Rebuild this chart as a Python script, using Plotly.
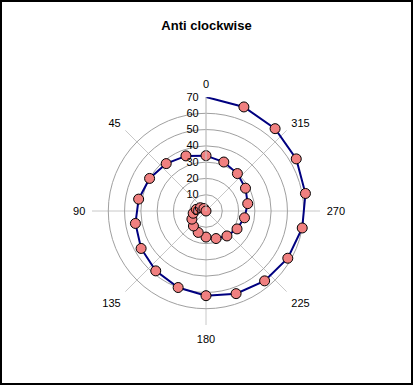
import plotly.graph_objects as go

title_text = "Anti clockwise"
radii = [70, 68, 66, 64, 62, 60, 58, 56, 54, 52, 50, 48, 46, 44, 42, 40, 38, 36,
         34, 32, 30, 28, 26, 24, 22, 20, 18, 16, 14, 12, 10, 8, 6, 4, 2, 0]
angles = [0, 340, 320, 300, 280, 260, 240, 220, 200, 180, 160, 140, 120, 100, 80, 60, 40, 20,
          0, 340, 320, 300, 280, 260, 240, 220, 200, 180, 160, 140, 120, 100, 80, 60, 40, 20]
angle_ticks = [0, 45, 90, 135, 180, 225, 270, 315]
angle_labels = ["0", "45", "90", "135", "180", "225", "270", "315"]
radial_ticks = [0, 10, 20, 30, 40, 50, 60, 70]

W, H = 413, 385
cx, cy, R = 206, 211, 114

fig = go.Figure()
fig.add_trace(go.Scatterpolar(
    r=radii, theta=angles, mode="lines",
    line=dict(color="#000080", width=2), hoverinfo="skip", showlegend=False))
fig.add_trace(go.Scatterpolar(
    r=radii[1:], theta=angles[1:], mode="markers",
    marker=dict(color="#F08080", size=10, line=dict(color="black", width=1)),
    showlegend=False))

fig.update_layout(
    width=W, height=H,
    margin=dict(l=0, r=0, t=0, b=0),
    paper_bgcolor="white",
    font=dict(family="Liberation Sans, Arial, sans-serif", size=11, color="black"),
    title=dict(text="<b>" + title_text + "</b>", x=0.5, xanchor="center",
               y=1 - 25 / H, yanchor="middle", yref="container",
               font=dict(size=13, color="black")),
    polar=dict(
        domain=dict(x=[(cx - R) / W, (cx + R) / W], y=[1 - (cy + R) / H, 1 - (cy - R) / H]),
        bgcolor="white",
        angularaxis=dict(
            direction="counterclockwise", rotation=90,
            tickmode="array", tickvals=angle_ticks, ticktext=angle_labels,
            ticks="outside", ticklen=4, tickcolor="rgba(0,0,0,0)", showline=False,
            gridcolor="#c8c8c8", gridwidth=1,
            tickfont=dict(size=11, color="black")),
        radialaxis=dict(
            range=[0, 70], tickmode="array", tickvals=radial_ticks,
            angle=90, tickangle=90, side="counterclockwise",
            showline=True, linecolor="#c8c8c8", linewidth=1,
            ticks="outside", ticklen=3, tickcolor="rgba(0,0,0,0)",
            gridcolor="#a0a0a0", gridwidth=1,
            tickfont=dict(size=11, color="black")),
    ),
    shapes=[dict(type="rect", xref="paper", yref="paper",
                 x0=1 / W, y0=1 / H, x1=1 - 1 / W, y1=1 - 1 / H,
                 line=dict(color="black", width=2), fillcolor="rgba(0,0,0,0)")],
)

fig.write_html("out.html", config={"displayModeBar": False},
               post_script="document.body.style.margin='0px';")
